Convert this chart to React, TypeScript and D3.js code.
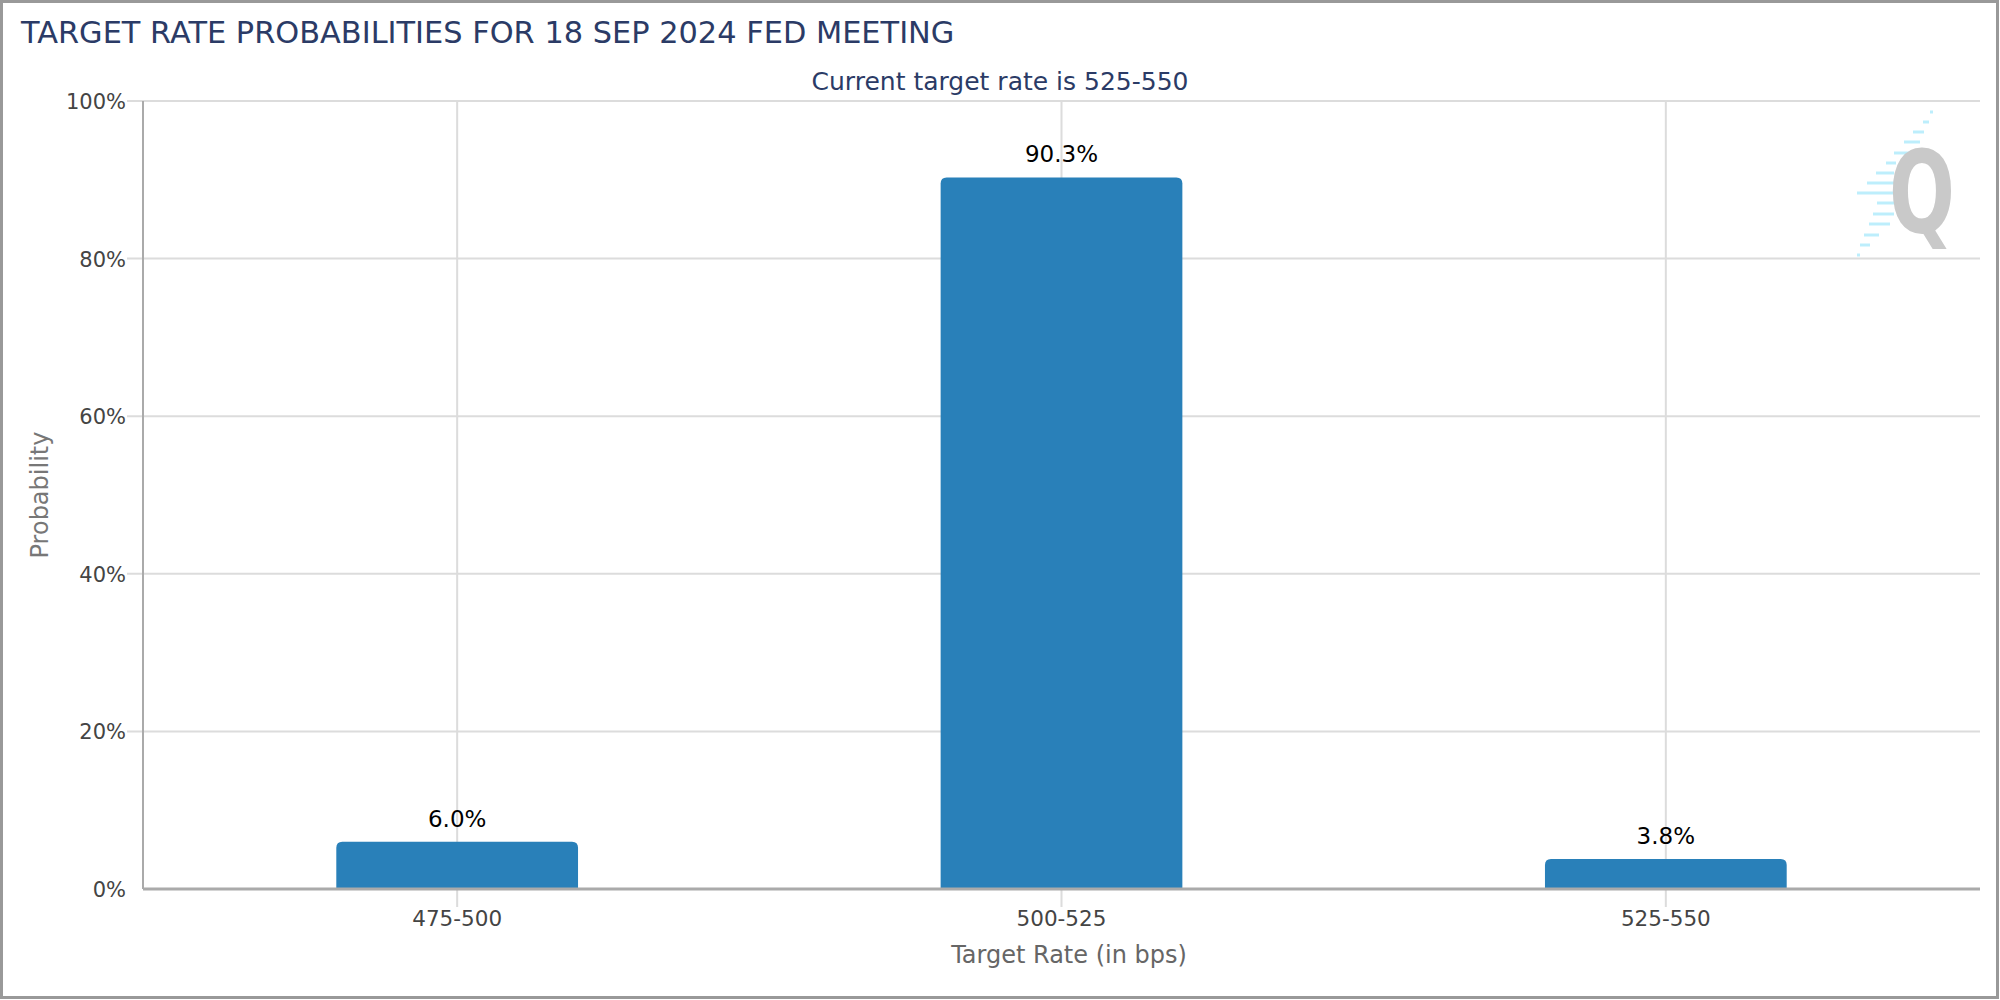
import React from "react";
import * as d3 from "d3";

const categories = ["475-500", "500-525", "525-550"];
const probabilities = [0.06, 0.903, 0.038];
const barLabels = ["6.0%", "90.3%", "3.8%"];
const yTicks = [0, 0.2, 0.4, 0.6, 0.8, 1];

// watermark stripes: [y, x start, x end]
const stripes: [number, number, number][] = [
	[112, 1930, 1933], [122, 1923, 1929], [132, 1913, 1924], [142, 1904, 1920],
	[153, 1894, 1910], [163, 1886, 1896], [173, 1876, 1894], [183, 1867, 1894],
	[193, 1857, 1894], [203, 1877, 1894], [214, 1873, 1894], [224, 1869, 1890],
	[235, 1864, 1879], [245, 1860, 1870], [255, 1857, 1860],
];

const W = 2000;
const H = 1000;
const plot = { left: 143, right: 1980, top: 101, bottom: 889 };
const font = "'DejaVu Sans', Verdana, sans-serif";

// rect with only the top corners rounded
function topRounded(x: number, y: number, w: number, h: number, r: number) {
	const rr = Math.min(r, h, w / 2);
	return `M${x},${y + h}V${y + rr}Q${x},${y} ${x + rr},${y}H${x + w - rr}Q${x + w},${y} ${x + w},${y + rr}V${y + h}Z`;
}

const App: React.FC = () => {
	const x = d3
		.scaleBand<string>()
		.domain(categories)
		.range([155, 1968])
		.paddingInner(0.6)
		.paddingOuter(0.3);

	const y = d3.scaleLinear().domain([0, 1]).range([plot.bottom, plot.top]);
	const fmt = d3.format(".0%");
	const center = (c: string) => (x(c) || 0) + x.bandwidth() / 2;

	return (
		<svg
			width={W}
			height={H}
			style={{ position: "absolute", left: 0, top: 0, background: "#fff" }}
			fontFamily={font}
		>
			<rect x={1.5} y={1.5} width={W - 4} height={H - 4} fill="#fff" stroke="#999" strokeWidth={3} />

			<text x={21} y={43} fontSize={30.4} fill="#2b3b66">
				TARGET RATE PROBABILITIES FOR 18 SEP 2024 FED MEETING
			</text>
			<text x={1000} y={90} fontSize={25} fill="#2b3b66" textAnchor="middle">
				Current target rate is 525-550
			</text>

			{/* horizontal grid */}
			{yTicks.map((t) => (
				<g key={t}>
					{t > 0 && (
						<line x1={127} x2={plot.right} y1={y(t)} y2={y(t)} stroke="#dcdcdc" strokeWidth={2} />
					)}
					<text x={126} y={y(t) + 8} fontSize={21} fill="#444" textAnchor="end">
						{fmt(t)}
					</text>
				</g>
			))}

			{/* vertical grid at categories */}
			{categories.map((c) => (
				<line key={c} x1={center(c)} x2={center(c)} y1={plot.top} y2={907} stroke="#dcdcdc" strokeWidth={2} />
			))}

			{/* watermark */}
			<g>
				{stripes.map(([sy, x1, x2]) => (
					<line key={sy} x1={x1} x2={x2} y1={sy} y2={sy} stroke="#bdeefc" strokeWidth={3} />
				))}
				<text
					transform="translate(1922,233) scale(0.68,1)"
					fontSize={114}
					fontWeight="bold"
					fill="#c9c9c9"
					textAnchor="middle"
				>
					Q
				</text>
			</g>

			{/* bars */}
			{categories.map((c, i) => (
				<g key={c}>
					<path
						d={topRounded(x(c) || 0, y(probabilities[i]), x.bandwidth(), plot.bottom - y(probabilities[i]), 6)}
						fill="#2980b9"
					/>
					<text x={center(c)} y={y(probabilities[i]) - 15} fontSize={23} fill="#000" textAnchor="middle">
						{barLabels[i]}
					</text>
					<text x={center(c)} y={926} fontSize={21.5} fill="#444" textAnchor="middle">
						{c}
					</text>
				</g>
			))}

			{/* axes */}
			<line x1={plot.left} x2={plot.left} y1={plot.top} y2={plot.bottom} stroke="#aaa" strokeWidth={2} />
			<line x1={plot.left} x2={plot.right} y1={plot.bottom} y2={plot.bottom} stroke="#aaa" strokeWidth={3} />

			<text x={1069} y={963} fontSize={24} fill="#666" textAnchor="middle">
				Target Rate (in bps)
			</text>
			<text
				transform={`translate(48,${(plot.top + plot.bottom) / 2}) rotate(-90)`}
				fontSize={24}
				fill="#777"
				textAnchor="middle"
			>
				Probability
			</text>
		</svg>
	);
};

export default App;
